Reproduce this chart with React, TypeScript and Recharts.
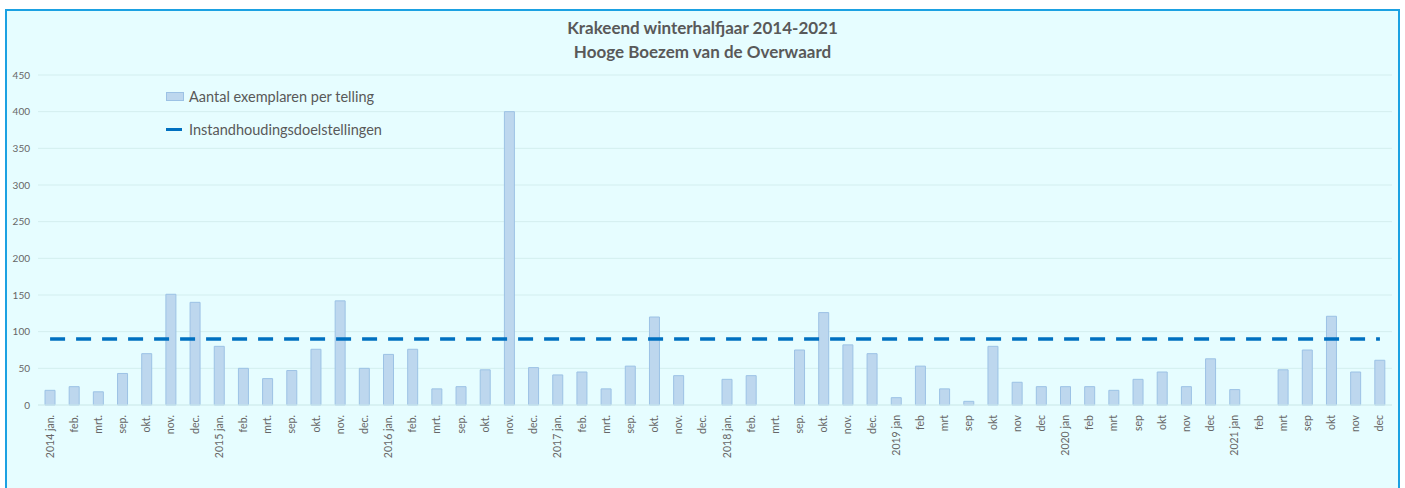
import React from "react";
import { ComposedChart, Bar, Line, XAxis, YAxis, CartesianGrid } from "recharts";

const labels: string[] = [
  "2014 jan.", "feb.", "mrt.", "sep.", "okt.", "nov.", "dec.",
  "2015 jan.", "feb.", "mrt.", "sep.", "okt.", "nov.", "dec.",
  "2016 jan.", "feb.", "mrt.", "sep.", "okt.", "nov.", "dec.",
  "2017 jan.", "feb.", "mrt.", "sep.", "okt.", "nov.", "dec.",
  "2018 jan.", "feb.", "mrt.", "sep.", "okt.", "nov.", "dec.",
  "2019 jan", "feb", "mrt", "sep", "okt", "nov", "dec",
  "2020 jan", "feb", "mrt", "sep", "okt", "nov", "dec",
  "2021 jan", "feb", "mrt", "sep", "okt", "nov", "dec",
];

const counts: number[] = [
  20, 25, 18, 43, 70, 151, 140,
  80, 50, 36, 47, 76, 142, 50,
  69, 76, 22, 25, 48, 400, 51,
  41, 45, 22, 53, 120, 40, 0,
  35, 40, 0, 75, 126, 82, 70,
  10, 53, 22, 5, 80, 31, 25,
  25, 25, 20, 35, 45, 25, 63,
  21, 0, 48, 75, 121, 45, 61,
];

const target = 90;
const yTicks = [0, 50, 100, 150, 200, 250, 300, 350, 400, 450];
const seriesNames = ["Aantal exemplaren per telling", "Instandhoudingsdoelstellingen"];

const data = labels.map((label, i) => ({ label, count: counts[i], doel: target }));

const FONT = "Lato, 'Open Sans', sans-serif";

const XTick = (props: any) => {
  const { x, y, payload } = props;
  return (
    <text
      x={0}
      y={0}
      transform={`translate(${x + 3.5},${y + 2}) rotate(-90)`}
      textAnchor="end"
      fontSize={10.5}
      fill="#666666"
      fontFamily={FONT}
    >
      {payload.value}
    </text>
  );
};

export default function App() {
  return (
    <div style={{ position: "absolute", left: 0, top: 0, width: 1405, height: 488, overflow: "hidden", background: "#ffffff" }}>
      <div
        style={{
          position: "absolute",
          left: 5,
          top: 9,
          width: 1391,
          height: 500,
          border: "2px solid #1BA1E2",
          background: "#E6FDFF",
        }}
      />
      <div
        style={{
          position: "absolute",
          left: 0,
          top: 16,
          width: 1405,
          textAlign: "center",
          fontFamily: FONT,
          fontWeight: 700,
          fontSize: 17,
          lineHeight: "24px",
          color: "#595959",
        }}
      >
        <div>Krakeend winterhalfjaar 2014-2021</div>
        <div>Hooge Boezem van de Overwaard</div>
      </div>
      <div style={{ position: "absolute", left: 0, top: 0 }}>
        <ComposedChart
          width={1405}
          height={488}
          data={data}
          margin={{ top: 75, right: 13, bottom: 8, left: 8 }}
          barCategoryGap="58%"
        >
          <CartesianGrid vertical={false} stroke="#D3EEEF" strokeWidth={1} />
          <XAxis
            dataKey="label"
            interval={0}
            height={75}
            axisLine={{ stroke: "#D3EEEF" }}
            tickLine={false}
            tick={<XTick />}
          />
          <YAxis
            width={30}
            domain={[0, 450]}
            ticks={yTicks}
            axisLine={false}
            tickLine={false}
            tick={{ fontSize: 10, fill: "#666666", fontFamily: FONT }}
          />
          <Bar
            dataKey="count"
            name={seriesNames[0]}
            fill="#BDD7EE"
            stroke="#9CC2E5"
            strokeWidth={1}
            barSize={10}
            isAnimationActive={false}
          />
          <Line
            dataKey="doel"
            name={seriesNames[1]}
            stroke="#0070C0"
            strokeWidth={3.5}
            strokeDasharray="15 11"
            dot={false}
            activeDot={false}
            type="linear"
            isAnimationActive={false}
          />
        </ComposedChart>
      </div>
      <div style={{ position: "absolute", left: 166, top: 87, fontFamily: FONT, fontSize: 14.5, color: "#595959" }}>
        <div style={{ display: "flex", alignItems: "center", height: 18 }}>
          <span style={{ display: "inline-block", width: 16, height: 7, background: "#BDD7EE", border: "1px solid #9CC2E5", marginRight: 5 }} />
          {seriesNames[0]}
        </div>
        <div style={{ display: "flex", alignItems: "center", height: 18, marginTop: 15 }}>
          <span style={{ display: "inline-block", width: 16, height: 3, background: "#0070C0", marginRight: 7 }} />
          {seriesNames[1]}
        </div>
      </div>
    </div>
  );
}
